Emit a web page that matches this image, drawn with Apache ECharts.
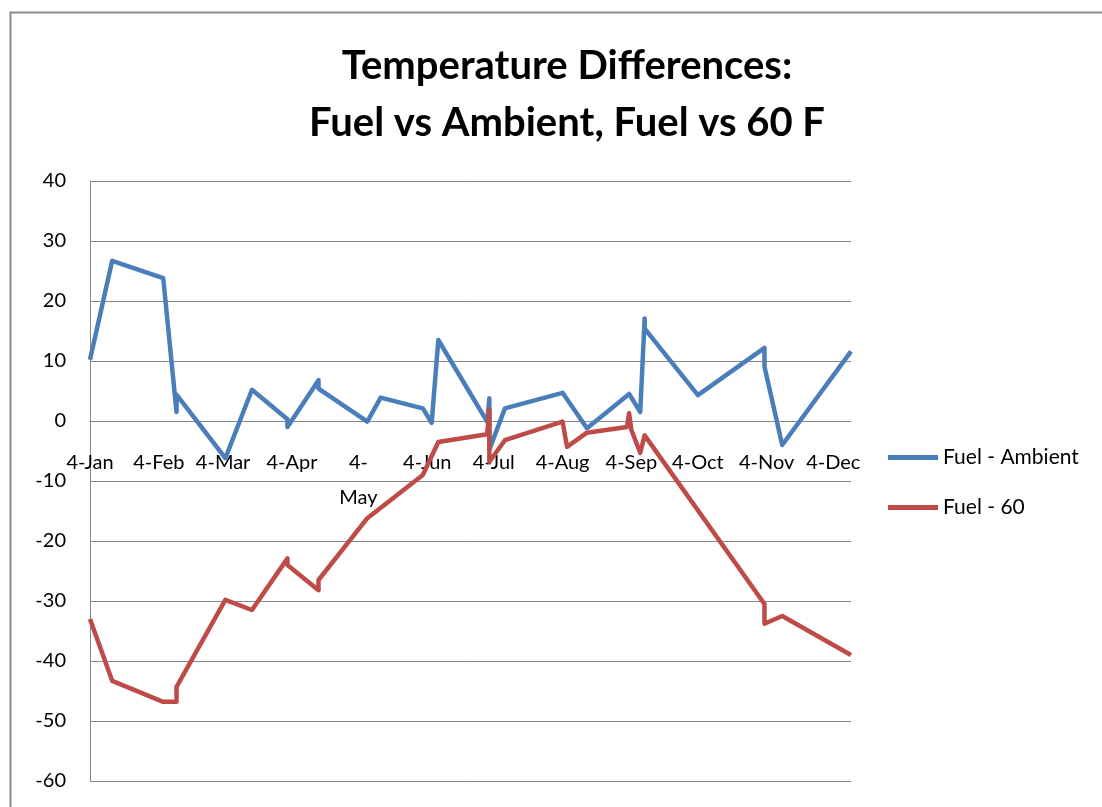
<!DOCTYPE html>
<html>
<head>
<meta charset="utf-8">
<script src="https://cdn.jsdelivr.net/npm/echarts@6/dist/echarts.min.js"></script>
<style>
  html, body { margin: 0; padding: 0; background: #fff; }
  #chart { width: 1102px; height: 807px; }
</style>
</head>
<body>
<div id="chart"></div>
<script>
// ---- data ----
const ambientDates = ['2008-01-04','2008-01-14','2008-02-06','2008-02-12','2008-02-12','2008-03-05','2008-03-17',
  '2008-04-02','2008-04-02','2008-04-16','2008-04-16','2008-05-08','2008-05-14','2008-06-02','2008-06-06','2008-06-09',
  '2008-07-01','2008-07-02','2008-07-02','2008-07-09','2008-08-04','2008-08-15','2008-09-03','2008-09-08',
  '2008-09-10','2008-09-10','2008-10-04','2008-11-03','2008-11-03','2008-11-11','2008-12-12'];
const ambientValues = [10.2, 26.7, 23.8, 1.5, 4.4, -6.2, 5.2,
  0.3, -1.0, 6.8, 5.4, -0.1, 3.9, 2.1, -0.3, 13.5,
  -0.1, 3.8, -4.8, 2.1, 4.7, -1.2, 4.5, 1.5,
  17.1, 15.4, 4.3, 12.2, 9.1, -4.0, 11.6];

const sixtyDates = ['2008-01-04','2008-01-14','2008-02-06','2008-02-12','2008-02-12','2008-03-05','2008-03-17',
  '2008-04-02','2008-04-02','2008-04-16','2008-04-16','2008-05-08','2008-06-02','2008-06-09',
  '2008-07-01','2008-07-02','2008-07-02','2008-07-09','2008-08-04','2008-08-06','2008-08-15',
  '2008-09-02','2008-09-03','2008-09-04','2008-09-08','2008-09-10','2008-11-03','2008-11-03','2008-11-11','2008-12-12'];
const sixtyValues = [-33.0, -43.3, -46.8, -46.8, -44.3, -29.8, -31.5,
  -22.9, -24.0, -28.2, -26.5, -16.2, -9.0, -3.5,
  -2.2, 1.9, -6.8, -3.2, -0.1, -4.3, -1.95,
  -1.0, 1.3, -1.5, -5.3, -2.4, -30.5, -33.8, -32.5, -39.0];

const tickDates = ['2008-01-04','2008-02-04','2008-03-04','2008-04-04','2008-05-04','2008-06-04',
  '2008-07-04','2008-08-04','2008-09-04','2008-10-04','2008-11-04','2008-12-04'];
const tickLabels = ['4-Jan','4-Feb','4-Mar','4-Apr','4-\nMay','4-Jun','4-Jul','4-Aug','4-Sep','4-Oct','4-Nov','4-Dec'];
const axisMinDate = '2008-01-04';
const axisMaxDate = '2008-12-12';
const yTicks = [-60, -50, -40, -30, -20, -10, 0, 10, 20, 30, 40];
const seriesNames = ['Fuel - Ambient', 'Fuel - 60'];

// ---- helpers: dates -> day number (days since 1 Jan 2008) ----
const BASE = Date.UTC(2008, 0, 1);
function dayNum(s) { const p = s.split('-').map(Number); return Math.round((Date.UTC(p[0], p[1] - 1, p[2]) - BASE) / 86400000); }
function pairs(dates, vals) { return dates.map((d, i) => [dayNum(d), vals[i]]); }
const tickDays = tickDates.map(dayNum);
const labelMap = {};
tickDays.forEach((t, i) => { labelMap[t] = tickLabels[i]; });

const FONT = 'Lato, "Open Sans", sans-serif';
const GRID = '#878787';

const chart = echarts.init(document.getElementById('chart'), null, { renderer: 'canvas' });
chart.setOption({
  animation: false,
  backgroundColor: '#fff',
  graphic: [{
    type: 'rect', left: 8, top: 10,
    shape: { width: 1200, height: 900 },
    style: { fill: 'none', stroke: '#8a8a8a', lineWidth: 2 },
    silent: true
  }],
  title: {
    text: 'Temperature Differences:\nFuel vs Ambient, Fuel vs 60 F',
    left: 562, top: 33, textAlign: 'center',
    textStyle: { fontFamily: FONT, fontWeight: 'bold', fontSize: 40, lineHeight: 57, color: '#000' }
  },
  legend: {
    orient: 'vertical', left: 888, top: 447, padding: 0,
    itemWidth: 50, itemHeight: 5, itemGap: 29,
    icon: 'rect',
    textStyle: { fontFamily: FONT, fontSize: 21, color: '#000' },
    data: seriesNames
  },
  grid: { left: 90, top: 181, right: 251, bottom: 26, containLabel: false, outerBoundsMode: 'none' },
  xAxis: {
    type: 'value',
    min: dayNum(axisMinDate), max: dayNum(axisMaxDate),
    offset: -360,
    axisLine: { show: true, onZero: false, lineStyle: { color: GRID, width: 1 } },
    axisTick: { show: false },
    splitLine: { show: false },
    axisLabel: {
      customValues: tickDays,
      formatter: v => labelMap[v] || '',
      margin: 24, lineHeight: 35,
      fontFamily: FONT, fontSize: 20, color: '#000',
      hideOverlap: false, showMinLabel: true, showMaxLabel: true
    }
  },
  yAxis: {
    type: 'value', min: yTicks[0], max: yTicks[yTicks.length - 1], interval: 10,
    axisLine: { show: true, lineStyle: { color: GRID, width: 1 } },
    axisTick: { show: false },
    splitLine: { show: true, lineStyle: { color: GRID, width: 1 } },
    axisLabel: { margin: 24, fontFamily: FONT, fontSize: 20, color: '#000' }
  },
  series: [
    {
      name: seriesNames[0], type: 'line', data: pairs(ambientDates, ambientValues),
      symbol: 'none', lineStyle: { color: '#4A7EBB', width: 4.5, join: 'round' },
      itemStyle: { color: '#4A7EBB' }
    },
    {
      name: seriesNames[1], type: 'line', data: pairs(sixtyDates, sixtyValues),
      symbol: 'none', lineStyle: { color: '#BE4B48', width: 4.5, join: 'round' },
      itemStyle: { color: '#BE4B48' }
    }
  ]
});
</script>
</body>
</html>
